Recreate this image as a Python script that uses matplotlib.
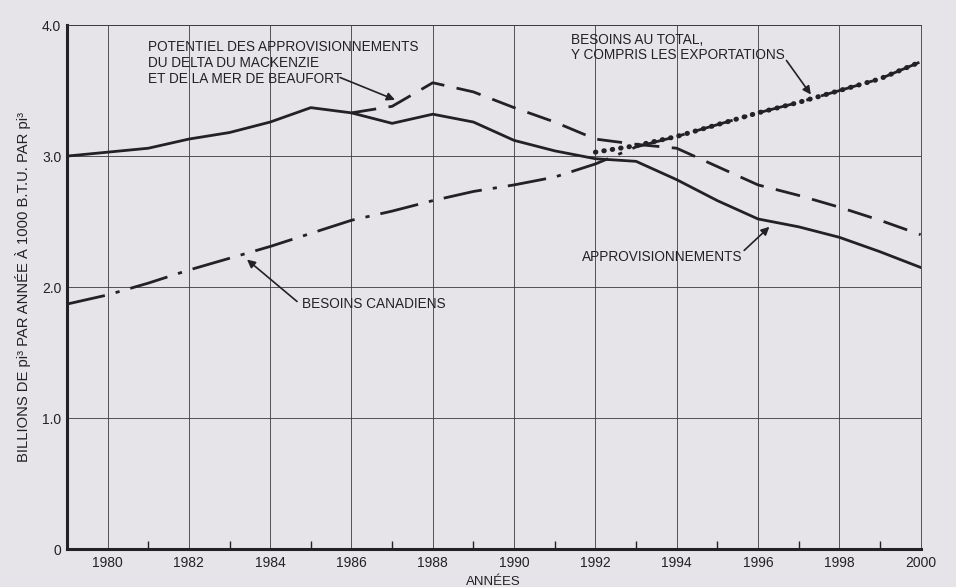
import matplotlib.pyplot as plt
import numpy as np

plt.rcParams['font.family'] = ['Liberation Sans', 'DejaVu Sans']

# approvisionnements (trait plein)
years_supply = list(range(1979, 2001))
supply = [3.00, 3.03, 3.06, 3.13, 3.18, 3.26, 3.37, 3.33, 3.25, 3.32, 3.26,
          3.12, 3.04, 2.98, 2.96, 2.82, 2.66, 2.52, 2.46, 2.38, 2.27, 2.15]

# potentiel Mackenzie / Beaufort (tirets)
years_potential = list(range(1986, 2001))
potential = [3.33, 3.38, 3.56, 3.49, 3.37, 3.26, 3.13, 3.09, 3.06, 2.92, 2.78,
             2.70, 2.61, 2.51, 2.40]

# besoins canadiens (trait mixte)
years_canada = list(range(1979, 2001))
canada = [1.87, 1.94, 2.03, 2.13, 2.22, 2.31, 2.41, 2.51, 2.58, 2.66, 2.73,
          2.78, 2.84, 2.94, 3.07, 3.15, 3.24, 3.33, 3.41, 3.50, 3.59, 3.72]

# besoins au total, y compris exportations (pointillé)
years_total = list(range(1992, 2001))
total = [3.03, 3.08, 3.15, 3.24, 3.33, 3.41, 3.50, 3.59, 3.72]

bg = '#e7e4e9'
ink = '#232123'

fig = plt.figure(figsize=(9.56, 5.87), dpi=100, facecolor=bg)
ax = fig.add_axes([0.070, 0.0647, 0.893, 0.8925], facecolor=bg)

ax.plot(years_supply, supply, color=ink, lw=2.0, solid_joinstyle='round')
ax.plot(years_potential, potential, color=ink, lw=2.0, dashes=(9, 4.5))
ax.plot(years_canada, canada, color=ink, lw=2.0, dashes=(14, 4, 1.5, 4))
ax.plot(years_total, total, color=ink, lw=3.6, linestyle=(0, (0.1, 1.6)),
        dash_capstyle='round')

ax.set_xlim(1979, 2000)
ax.set_ylim(0, 4.0)
ax.set_xticks(range(1980, 2001, 2))
ax.set_xticks(range(1981, 2000, 2), minor=True)
ax.set_yticks([0, 1, 2, 3, 4])
ax.set_yticklabels(['0', '1.0', '2.0', '3.0', '4.0'])
ax.grid(True, which='major', color='#3a383b', lw=0.6)
ax.tick_params(axis='x', which='major', length=0, labelsize=10, colors=ink, pad=5)
ax.tick_params(axis='x', which='minor', direction='in', length=6, width=1, colors=ink)
ax.tick_params(axis='y', length=0, labelsize=10, colors=ink, pad=4)

for side in ['top', 'right']:
    ax.spines[side].set_linewidth(0.6)
    ax.spines[side].set_color('#3a383b')
for side in ['left', 'bottom']:
    ax.spines[side].set_linewidth(2.2)
    ax.spines[side].set_color(ink)

ax.set_xlabel('ANNÉES', fontsize=9.5, color=ink, labelpad=4)
ax.set_ylabel('BILLIONS DE pi³ PAR ANNÉE À 1000 B.T.U. PAR pi³', fontsize=10.6,
              color=ink, labelpad=8)

arrow = dict(arrowstyle='-|>', color=ink, lw=1.2, mutation_scale=12,
             shrinkA=0, shrinkB=0)
fs = 9.8

ax.text(1981.0, 3.71,
        'POTENTIEL DES APPROVISIONNEMENTS\nDU DELTA DU MACKENZIE\nET DE LA MER DE BEAUFORT',
        fontsize=fs, color=ink, ha='left', va='center', linespacing=1.15)
ax.annotate('', xy=(1987.07, 3.43), xytext=(1985.72, 3.60), arrowprops=arrow)

ax.text(1991.4, 3.83, 'BESOINS AU TOTAL,\nY COMPRIS LES EXPORTATIONS',
        fontsize=fs, color=ink, ha='left', va='center', linespacing=1.15)
ax.annotate('', xy=(1997.3, 3.47), xytext=(1996.7, 3.73), arrowprops=arrow)

ax.text(1991.66, 2.23, 'APPROVISIONNEMENTS', fontsize=fs, color=ink,
        ha='left', va='center')
ax.annotate('', xy=(1996.28, 2.46), xytext=(1995.66, 2.28), arrowprops=arrow)

ax.text(1984.78, 1.87, 'BESOINS CANADIENS', fontsize=fs, color=ink,
        ha='left', va='center')
ax.annotate('', xy=(1983.43, 2.21), xytext=(1984.66, 1.89), arrowprops=arrow)

fig.savefig('out.png', dpi=100, facecolor=bg)
